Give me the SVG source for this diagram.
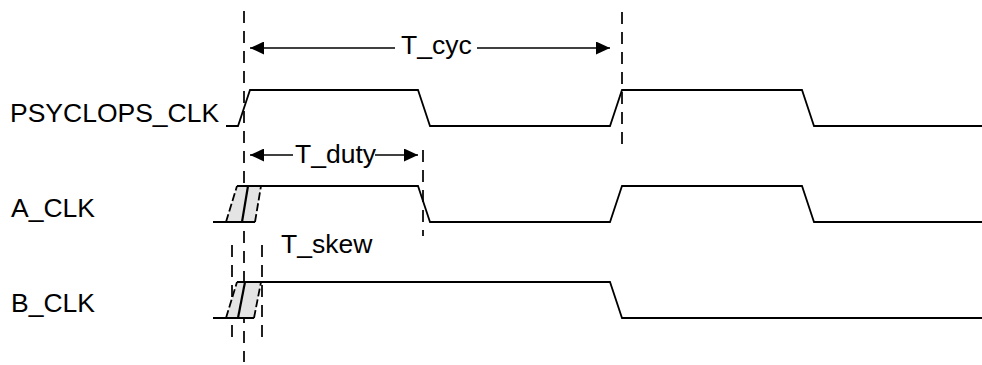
<svg xmlns="http://www.w3.org/2000/svg" width="982" height="365" viewBox="0 0 982 365">
<style>
.w{fill:none;stroke:#000;stroke-width:1.8;stroke-linejoin:miter}
.m{fill:none;stroke:#000;stroke-width:2.2}
.d{fill:none;stroke:#222;stroke-width:2;stroke-dasharray:12,8}
.de{fill:none;stroke:#000;stroke-width:1.8;stroke-dasharray:8,3}
.sk{fill:#e4e4e4;stroke:none}
.t{font-family:"Liberation Sans",Arial,sans-serif;font-size:26.5px;fill:#000}
.a{fill:none;stroke:#000;stroke-width:1.4}
</style>
<defs>
<marker id="ah" viewBox="0 0 14 13" refX="14" refY="6.5" markerWidth="14" markerHeight="13" markerUnits="userSpaceOnUse" orient="auto-start-reverse">
<path d="M0,0 L14,6.5 L0,13 Z" fill="#000"/>
</marker>
</defs>
<rect width="982" height="365" fill="#fff"/>
<g id="guides">
<line class="d" x1="244" y1="11" x2="244" y2="362"/>
<line class="d" x1="622" y1="12" x2="622" y2="146"/>
<line class="d" x1="423" y1="150" x2="423" y2="236"/>
<line class="d" x1="232" y1="245" x2="232" y2="344" stroke-dasharray="12,12"/>
<line class="d" x1="262" y1="245" x2="262" y2="344" stroke-dasharray="12,12"/>
</g>
<g id="psyclops_clk">
<text class="t" x="10" y="122">PSYCLOPS_CLK</text>
<path class="w" d="M226,126 H238 L250,90 H418 L430,126 H610 L622,90 H802 L814,126 H982"/>
</g>
<g id="a_clk">
<text class="t" x="11" y="217">A_CLK</text>
<polygon class="sk" points="226,222 237,186 261,186 255,222"/>
<line class="de" x1="226" y1="222" x2="237" y2="186"/>
<line class="de" x1="255" y1="222" x2="261" y2="186"/>
<path class="w" d="M213,222 H255 M237,186 H418 L430,222 H610 L622,186 H802 L814,222 H982"/>
<path class="m" d="M242,222 L248,186"/>
</g>
<g id="b_clk">
<text class="t" x="11" y="312">B_CLK</text>
<polygon class="sk" points="226,318 237,282 261,282 254,318"/>
<line class="de" x1="226" y1="318" x2="237" y2="282"/>
<line class="de" x1="254" y1="318" x2="261" y2="282"/>
<path class="w" d="M213,318 H254 M237,282 H610 L622,318 H982"/>
<path class="m" d="M238,318 L245,282"/>
</g>
<g id="connectors">
<line class="a" x1="395" y1="48" x2="250" y2="48" marker-end="url(#ah)"/>
<line class="a" x1="477" y1="48" x2="610" y2="48" marker-end="url(#ah)"/>
<line class="a" x1="293" y1="155" x2="250" y2="155" marker-end="url(#ah)"/>
<line class="a" x1="375" y1="155" x2="418" y2="155" marker-end="url(#ah)"/>
</g>
<g id="labels">
<text class="t" x="401" y="54">T_cyc</text>
<text class="t" x="295" y="163">T_duty</text>
<text class="t" x="281" y="253">T_skew</text>
</g>
</svg>
